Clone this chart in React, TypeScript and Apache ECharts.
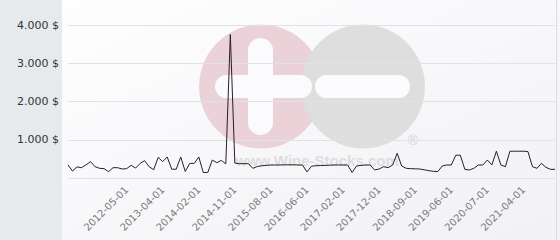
import React, { useEffect, useRef } from "react";
import * as echarts from "echarts";

const dates: string[] = [
  "2011-02-01", "2011-03-01", "2011-05-01", "2011-06-01", "2011-08-01", "2011-09-01", "2011-10-01", "2011-11-01",
  "2011-12-01", "2012-01-01", "2012-02-01", "2012-03-01", "2012-04-01", "2012-05-01", "2012-06-01", "2012-07-01",
  "2012-09-01", "2012-10-01", "2012-11-01", "2013-01-01", "2013-02-01", "2013-04-01", "2013-05-01", "2013-06-01",
  "2013-08-01", "2013-09-01", "2013-10-01", "2013-11-01", "2013-12-01", "2014-02-01", "2014-03-01", "2014-04-01",
  "2014-05-01", "2014-06-01", "2014-07-01", "2014-08-01", "2014-10-01", "2014-11-01", "2014-12-01", "2015-01-01",
  "2015-02-01", "2015-03-01", "2015-04-01", "2015-05-01", "2015-07-01", "2015-08-01", "2015-09-01", "2015-10-01",
  "2015-11-01", "2016-01-01", "2016-02-01", "2016-03-01", "2016-05-01", "2016-06-01", "2016-07-01", "2016-08-01",
  "2016-09-01", "2016-10-01", "2016-11-01", "2016-12-01", "2017-01-01", "2017-02-01", "2017-03-01", "2017-04-01",
  "2017-05-01", "2017-07-01", "2017-08-01", "2017-09-01", "2017-10-01", "2017-12-01", "2018-01-01", "2018-02-01",
  "2018-03-01", "2018-04-01", "2018-05-01", "2018-06-01", "2018-08-01", "2018-09-01", "2018-10-01", "2018-11-01",
  "2018-12-01", "2019-01-01", "2019-02-01", "2019-03-01", "2019-05-01", "2019-06-01", "2019-07-01", "2019-09-01",
  "2019-10-01", "2019-12-01", "2020-02-01", "2020-03-01", "2020-05-01", "2020-07-01", "2020-08-01", "2020-09-01",
  "2020-10-01", "2020-11-01", "2020-12-01", "2021-01-01", "2021-02-01", "2021-04-01", "2021-05-01", "2021-06-01",
  "2021-07-01", "2021-08-01", "2021-09-01", "2021-10-01", "2021-11-01",
];

const prices: number[] = [
  340, 183, 290, 270, 345, 427, 296, 253, 244, 166, 270, 270, 235, 244, 331, 260,
  383, 453, 296, 215, 540, 427, 550, 230, 230, 550, 170, 383, 383, 550, 145, 145,
  470, 400, 460, 370, 3750, 390, 375, 375, 375, 253, 300, 320, 330, 340, 340, 340,
  345, 345, 345, 340, 340, 160, 310, 320, 325, 330, 335, 340, 340, 340, 340, 145,
  314, 330, 340, 340, 209, 235, 296, 270, 340, 645, 314, 253, 245, 240, 235, 215,
  192, 175, 166, 314, 340, 340, 595, 595, 227, 209, 253, 340, 340, 470, 340, 700,
  340, 296, 700, 700, 700, 700, 690, 296, 253, 383, 279, 227, 227,
];

const shownLabels: string[] = [
  "2012-05-01", "2013-04-01", "2014-02-01", "2014-11-01", "2015-08-01", "2016-06-01",
  "2017-02-01", "2017-12-01", "2018-09-01", "2019-06-01", "2020-07-01", "2021-04-01",
];

const yTicks: number[] = [0, 1000, 2000, 3000, 4000];

export default function App() {
  const ref = useRef<HTMLDivElement>(null);
  useEffect(() => {
    document.body.style.margin = "0";
    const chart = echarts.init(ref.current!, null, { renderer: "svg" });
    chart.setOption({
      animation: false,
      graphic: [
        { type: "rect", z: -20, shape: { x: 0, y: 0, width: 560, height: 240 },
          style: { fill: new echarts.graphic.LinearGradient(0, 0, 1, 1, [
            { offset: 0, color: "#ffffff" }, { offset: 1, color: "#f1f1f6" }]) } },
        { type: "rect", z: -19, shape: { x: 0, y: 0, width: 62, height: 240 }, style: { fill: "#e7eaed" } },
        { type: "line", z: -19, shape: { x1: 556.5, y1: 0, x2: 556.5, y2: 240 }, style: { stroke: "#dcdce0", lineWidth: 1 } },
        { type: "circle", z: -15, shape: { cx: 261, cy: 86.5, r: 62 }, style: { fill: "#ebd2d9" } },
        { type: "circle", z: -14, shape: { cx: 363, cy: 86.5, r: 62 }, style: { fill: "#dedede" } },
        { type: "rect", z: -13, shape: { x: 248, y: 38, width: 25, height: 97, r: 12.5 }, style: { fill: "#fbfbfd" } },
        { type: "rect", z: -13, shape: { x: 215, y: 75, width: 97, height: 23, r: 11.5 }, style: { fill: "#fbfbfd" } },
        { type: "rect", z: -13, shape: { x: 315, y: 75, width: 95, height: 23, r: 11.5 }, style: { fill: "#fbfbfd" } },
        { type: "text", z: -13, x: 413, y: 140, style: { text: "®", fill: "#d4d4d4", font: "14px 'Liberation Sans'", align: "center", verticalAlign: "middle" } },
        { type: "text", z: -13, x: 317, y: 160, style: { text: "www.Wine-Stocks.com", fill: "#dedede", font: "bold 15px 'Liberation Sans'", align: "center", verticalAlign: "middle" } },
      ],
      grid: { left: 68, right: 5, top: 25, bottom: 62 },
      xAxis: {
        type: "category",
        data: dates,
        boundaryGap: false,
        axisLine: { show: false },
        axisTick: { show: false },
        axisLabel: {
          rotate: 45,
          margin: 10,
          interval: (i: number, v: string) => shownLabels.indexOf(v) >= 0,
          color: "#7a7a7a",
          fontSize: 10,
          fontFamily: "DejaVu Sans",
        },
      },
      yAxis: {
        type: "value",
        min: yTicks[0],
        max: yTicks[yTicks.length - 1],
        interval: 1000,
        axisLabel: {
          margin: 9,
          color: "#333333",
          fontSize: 11,
          fontFamily: "DejaVu Sans",
          formatter: (v: number) => (v === 0 ? "" : v.toLocaleString("de-DE") + " $"),
        },
        splitLine: { lineStyle: { color: "#e2e2e6", width: 1 } },
      },
      series: [
        {
          type: "line",
          data: prices,
          showSymbol: false,
          lineStyle: { color: "#2b1d24", width: 1 },
        },
      ],
    });
    return () => chart.dispose();
  }, []);
  return <div ref={ref} style={{ width: 560, height: 240 }} />;
}
